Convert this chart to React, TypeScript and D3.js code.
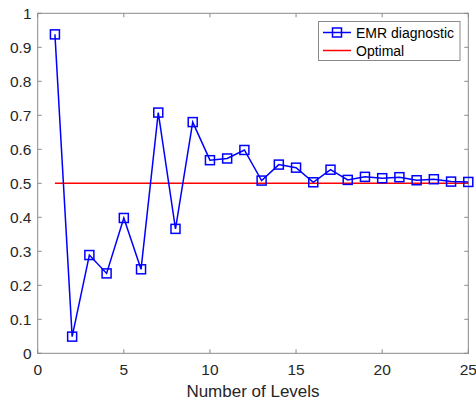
import React from "react";
import * as d3 from "d3";

const levels = [1,2,3,4,5,6,7,8,9,10,11,12,13,14,15,16,17,18,19,20,21,22,23,24,25];
const emrValues = [0.938,0.049,0.289,0.235,0.398,0.247,0.708,0.366,0.680,0.568,0.573,0.598,0.508,0.555,0.546,0.503,0.540,0.510,0.519,0.515,0.518,0.509,0.512,0.505,0.504];
const optimalValue = 0.5;
const xTicks = [0,5,10,15,20,25];
const yTicks = [0,0.1,0.2,0.3,0.4,0.5,0.6,0.7,0.8,0.9,1];
const seriesNames = ["EMR diagnostic", "Optimal"];

export default function App() {
  const W = 476, H = 403;
  const left = 37.7, right = 468.3, top = 13.3, bottom = 353.3;
  const x = d3.scaleLinear().domain([0, 25]).range([left, right]);
  const y = d3.scaleLinear().domain([0, 1]).range([bottom, top]);
  const line = d3.line<number>().x((_, i) => x(levels[i])).y((d) => y(d));
  const axisColor = "#8a8a8a";
  const textColor = "#262626";
  const font = "'Liberation Sans', Arial, Helvetica, sans-serif";
  const ms = 9;
  const lx = 318.5, ly = 21.5, lw = 141.5, lh = 39;
  return (
    <svg width={W} height={H} style={{ position: "absolute", left: 0, top: 0, background: "#fff" }}>
      <rect x={0} y={0} width={W} height={H} fill="#fff" />
      <rect x={left} y={top} width={right - left} height={bottom - top} fill="none" stroke={axisColor} strokeWidth={1} />
      {xTicks.map((t) => (
        <g key={"x" + t}>
          <line x1={x(t)} x2={x(t)} y1={bottom} y2={bottom - 4} stroke={axisColor} />
          <line x1={x(t)} x2={x(t)} y1={top} y2={top + 4} stroke={axisColor} />
          <text x={x(t)} y={369} textAnchor="middle" dominantBaseline="central" fontSize={15.5} fontFamily={font} fill={textColor}>{t}</text>
        </g>
      ))}
      {yTicks.map((t) => (
        <g key={"y" + t}>
          <line x1={left} x2={left + 4} y1={y(t)} y2={y(t)} stroke={axisColor} />
          <line x1={right} x2={right - 4} y1={y(t)} y2={y(t)} stroke={axisColor} />
          <text x={31.5} y={y(t)} textAnchor="end" dominantBaseline="central" fontSize={15.5} fontFamily={font} fill={textColor}>{String(t)}</text>
        </g>
      ))}
      <text x={(left + right) / 2} y={391} textAnchor="middle" dominantBaseline="central" fontSize={17} fontFamily={font} fill={textColor}>Number of Levels</text>
      <line x1={x(levels[0])} x2={x(levels[levels.length - 1])} y1={y(optimalValue)} y2={y(optimalValue)} stroke="#ff0000" strokeWidth={1.5} />
      <path d={line(emrValues) || ""} fill="none" stroke="#0000ff" strokeWidth={1.5} />
      {emrValues.map((v, i) => (
        <rect key={i} x={x(levels[i]) - ms / 2} y={y(v) - ms / 2} width={ms} height={ms} fill="none" stroke="#0000ff" strokeWidth={1.5} />
      ))}
      <rect x={lx} y={ly} width={lw} height={lh} fill="#fff" stroke={axisColor} strokeWidth={1} />
      <line x1={323} x2={351} y1={32.5} y2={32.5} stroke="#0000ff" strokeWidth={1.5} />
      <rect x={337 - ms / 2} y={32.5 - ms / 2} width={ms} height={ms} fill="none" stroke="#0000ff" strokeWidth={1.5} />
      <text x={356} y={32.5} dominantBaseline="central" fontSize={14} fontFamily={font} fill="#000">{seriesNames[0]}</text>
      <line x1={323} x2={351} y1={50.5} y2={50.5} stroke="#ff0000" strokeWidth={1.5} />
      <text x={356} y={50.5} dominantBaseline="central" fontSize={14} fontFamily={font} fill="#000">{seriesNames[1]}</text>
    </svg>
  );
}
